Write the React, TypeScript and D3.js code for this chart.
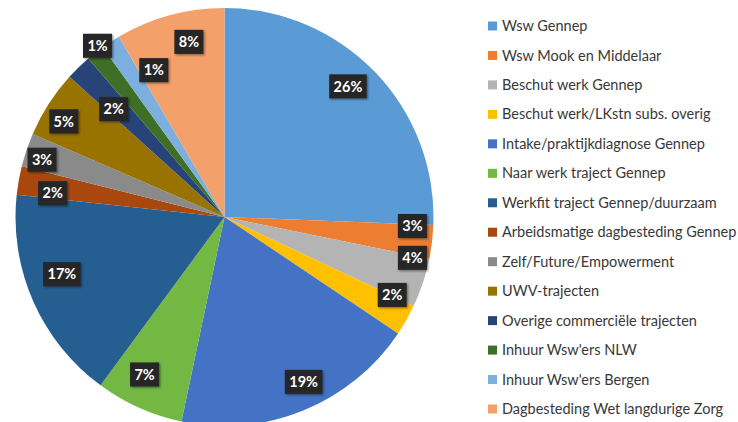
import React from "react";
import * as d3 from "d3";

const categories = [
  "Wsw Gennep",
  "Wsw Mook en Middelaar",
  "Beschut werk Gennep",
  "Beschut werk/LKstn subs. overig",
  "Intake/praktijkdiagnose Gennep",
  "Naar werk traject Gennep",
  "Werkfit traject Gennep/duurzaam",
  "Arbeidsmatige dagbesteding Gennep",
  "Zelf/Future/Empowerment",
  "UWV-trajecten",
  "Overige commerciële trajecten",
  "Inhuur Wsw'ers NLW",
  "Inhuur Wsw'ers Bergen",
  "Dagbesteding Wet langdurige Zorg",
];

const values = [25.6, 2.6, 3.8, 2.4, 18.9, 6.8, 16.6, 2.2, 2.6, 5.2, 2.0, 1.4, 1.46, 8.44];

const colors = [
  "#5B9BD5",
  "#ED7D31",
  "#B4B4B4",
  "#FFC000",
  "#4472C4",
  "#72B843",
  "#255E91",
  "#A8480E",
  "#8A8A8A",
  "#997300",
  "#264478",
  "#3F6E26",
  "#7CAFDD",
  "#F4A06A",
];

// label placement tweaks (fraction of radius, angular shift in degrees)
const labelRadius = [0.86, 0.9, 0.92, 0.885, 0.875, 0.845, 0.825, 0.83, 0.915, 0.895, 0.74, 1.02, 0.78, 0.855];
const labelShift = [-2.7, -4.1, -6.1, -4.6, -3.5, 2.8, 4.4, -2.2, -1.3, -2, -1.5, 1.6, 7.3, 3.7];

const W = 738;
const H = 422;
const cx = 224.5;
const cy = 217;
const R = 209;

export default function App() {
  const total = d3.sum(values);
  const pie = d3
    .pie<number>()
    .sort(null)
    .value((d) => d);
  const arcs = pie(values);
  const arcGen = d3.arc<d3.PieArcDatum<number>>().innerRadius(0).outerRadius(R);
  const fmt = (v: number) => `${Math.round((v / total) * 100)}%`;

  const legendY = d3
    .scalePoint<number>()
    .domain(d3.range(categories.length))
    .range([26, 409]);

  return (
    <svg
      width={W}
      height={H}
      style={{ position: "absolute", left: 0, top: 0, background: "#fff" }}
    >
      <defs>
        <filter id="sh" x="-30%" y="-30%" width="160%" height="160%">
          <feDropShadow dx="1.2" dy="1.2" stdDeviation="1.2" floodColor="#000" floodOpacity="0.45" />
        </filter>
      </defs>
      <g transform={`translate(${cx},${cy})`}>
        {arcs.map((a, i) => (
          <path key={i} d={arcGen(a) || ""} fill={colors[i]} />
        ))}
        {arcs.map((a, i) => {
          const mid = (a.startAngle + a.endAngle) / 2 + (labelShift[i] * Math.PI) / 180;
          const r = labelRadius[i] * R;
          const x = Math.sin(mid) * r;
          const y = -Math.cos(mid) * r;
          const txt = fmt(values[i]);
          const w = txt.length * 8.5 + 12;
          const h = 24;
          return (
            <g key={"l" + i} transform={`translate(${x},${y})`}>
              <rect x={-w / 2} y={-h / 2} width={w} height={h} fill="#262626" filter="url(#sh)" />
              <text
                textAnchor="middle"
                dy="0.36em"
                fill="#fff"
                fontFamily="Lato, 'Open Sans', sans-serif"
                fontWeight={700}
                fontSize={14.5}
              >
                {txt}
              </text>
            </g>
          );
        })}
      </g>
      <g>
        {categories.map((c, i) => (
          <g key={c} transform={`translate(488,${legendY(i)})`}>
            <rect x={0} y={-4.5} width={9} height={9} fill={colors[i]} />
            <text
              x={14}
              dy="0.35em"
              fill="#383838"
              fontFamily="Lato, 'Open Sans', sans-serif"
              fontSize={14.5}
            >
              {c}
            </text>
          </g>
        ))}
      </g>
    </svg>
  );
}
